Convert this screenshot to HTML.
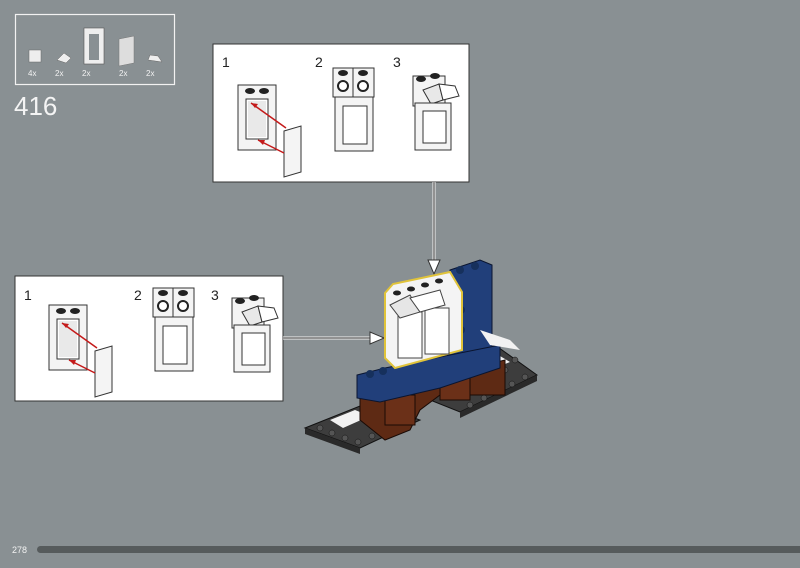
<!DOCTYPE html>
<html><head><meta charset="utf-8"><style>
html,body{margin:0;padding:0;background:#899093;}
svg{display:block}
text{font-family:"Liberation Sans",sans-serif;}
</style></head><body>
<svg width="800" height="568" viewBox="0 0 800 568" xmlns="http://www.w3.org/2000/svg">
<rect width="800" height="568" fill="#899093"/>
<defs>
 <g id="f1">
  <rect x="0" y="0" width="38" height="65" fill="#f4f4f4" stroke="#333" stroke-width="1"/>
  <rect x="8" y="14" width="22" height="40" fill="#fff" stroke="#333" stroke-width="1"/>
  <rect x="10" y="16" width="18" height="36" fill="#e9e9e9"/>
  <ellipse cx="12" cy="6" rx="5" ry="3" fill="#222"/><ellipse cx="26" cy="6" rx="5" ry="3" fill="#222"/>
  <polygon points="46,46 63,41 63,87 46,92" fill="#f4f4f4" stroke="#333"/>
  <line x1="48" y1="43" x2="13" y2="18" stroke="#c41a1a" stroke-width="1.5"/>
  <polygon points="13,18 20,19 17,23" fill="#c41a1a"/>
  <line x1="46" y1="68" x2="20" y2="55" stroke="#c41a1a" stroke-width="1.5"/>
  <polygon points="20,55 27,55 25,60" fill="#c41a1a"/>
 </g>
 <g id="f2">
  <rect x="0" y="0" width="41" height="29" fill="#f4f4f4" stroke="#333"/>
  <line x1="20" y1="0" x2="20" y2="29" stroke="#333"/>
  <ellipse cx="10" cy="5" rx="5" ry="3" fill="#222"/><ellipse cx="30" cy="5" rx="5" ry="3" fill="#222"/>
  <circle cx="10" cy="18" r="5" fill="#fff" stroke="#222" stroke-width="2"/><circle cx="30" cy="18" r="5" fill="#fff" stroke="#222" stroke-width="2"/>
  <rect x="2" y="29" width="38" height="54" fill="#f4f4f4" stroke="#333"/>
  <rect x="10" y="38" width="24" height="38" fill="#fff" stroke="#333"/>
 </g>
 <g id="f3">
  <rect x="0" y="8" width="32" height="30" fill="#f4f4f4" stroke="#333"/>
  <ellipse cx="8" cy="11" rx="5" ry="3" fill="#222"/><ellipse cx="22" cy="8" rx="5" ry="3" fill="#222"/>
  <polygon points="10,22 26,16 30,32 18,36" fill="#e8e8e8" stroke="#333"/>
  <polygon points="26,16 42,18 46,28 30,32" fill="#fff" stroke="#333"/>
  <rect x="2" y="35" width="36" height="47" fill="#f4f4f4" stroke="#333"/>
  <rect x="10" y="43" width="23" height="32" fill="#fff" stroke="#333"/>
 </g>
</defs>

<rect x="15.5" y="14.5" width="159" height="70" fill="none" stroke="#f2f2f2" stroke-width="1.2"/>
<rect x="29" y="50" width="12" height="12" fill="#eee" stroke="#666" stroke-width=".5"/>
<polygon points="57,60 64,53 71,58 66,63" fill="#eee" stroke="#666" stroke-width=".5"/>
<rect x="84" y="28" width="20" height="36" fill="#eee" stroke="#555" stroke-width=".6"/><rect x="89" y="34" width="10" height="26" fill="#899093"/>
<polygon points="119,39 134,36 134,63 119,66" fill="#ddd" stroke="#777" stroke-width=".5"/>
<polygon points="148,60 150,55 158,56 162,62" fill="#eee" stroke="#666" stroke-width=".5"/>
<g font-size="8" fill="#f2f2f2"><text x="28" y="76">4x</text><text x="55" y="76">2x</text><text x="82" y="76">2x</text><text x="119" y="76">2x</text><text x="146" y="76">2x</text></g>
<text x="14" y="115" font-size="26" fill="#f4f4f4">416</text>

<rect x="213" y="44" width="256" height="138" fill="#fff" stroke="#333"/>
<g font-size="14" fill="#222"><text x="222" y="67">1</text><text x="315" y="67">2</text><text x="393" y="67">3</text></g>
<use href="#f1" x="238" y="85"/>
<use href="#f2" x="333" y="68"/>
<use href="#f3" x="413" y="68"/>

<rect x="15" y="276" width="268" height="125" fill="#fff" stroke="#333"/>
<g font-size="14" fill="#222"><text x="24" y="300">1</text><text x="134" y="300">2</text><text x="211" y="300">3</text></g>
<use href="#f1" x="49" y="305"/>
<use href="#f2" x="153" y="288"/>
<use href="#f3" x="232" y="290"/>

<line x1="434" y1="182" x2="434" y2="262" stroke="#f2f2f2" stroke-width="3"/>
<line x1="434" y1="182" x2="434" y2="262" stroke="#333" stroke-width="1"/>
<polygon points="428,260 440,260 434,274" fill="#fff" stroke="#333"/>
<line x1="283" y1="338" x2="372" y2="338" stroke="#f2f2f2" stroke-width="3"/>
<line x1="283" y1="338" x2="372" y2="338" stroke="#333" stroke-width="1"/>
<polygon points="370,332 370,344 384,338" fill="#fff" stroke="#333"/>

<polygon points="305,428 370,402 420,420 360,448" fill="#3d3d3d" stroke="#111"/>
<polygon points="305,428 360,448 360,454 305,434" fill="#2a2a2a"/>
<polygon points="430,400 495,345 537,375 460,412" fill="#3d3d3d" stroke="#111"/>
<polygon points="460,412 537,375 537,381 460,418" fill="#2a2a2a"/>
<polygon points="330,420 355,410 370,416 343,428" fill="#f2f2f2"/>
<polygon points="478,365 500,356 510,362 486,372" fill="#f2f2f2"/>
<g fill="#555" stroke="#111" stroke-width=".5">
<circle cx="320" cy="428" r="3"/><circle cx="332" cy="433" r="3"/><circle cx="345" cy="438" r="3"/><circle cx="358" cy="442" r="3"/><circle cx="372" cy="436" r="3"/><circle cx="386" cy="430" r="3"/><circle cx="400" cy="423" r="3"/>
<circle cx="470" cy="405" r="3"/><circle cx="484" cy="398" r="3"/><circle cx="498" cy="391" r="3"/><circle cx="512" cy="384" r="3"/><circle cx="525" cy="377" r="3"/><circle cx="505" cy="370" r="3"/><circle cx="515" cy="360" r="3"/>
</g>
<polygon points="360,395 505,360 505,395 440,395 420,410 410,430 385,440 360,420" fill="#5e2a14" stroke="#1a0a05"/>
<rect x="385" y="395" width="30" height="30" fill="#6b3018" stroke="#1a0a05"/>
<rect x="440" y="375" width="30" height="25" fill="#6b3018" stroke="#1a0a05"/>
<polygon points="450,270 480,260 492,265 492,350 460,362 450,358" fill="#213f7a" stroke="#0a1530"/>
<polygon points="357,375 385,368 475,350 500,345 500,368 440,388 380,402 357,398" fill="#213f7a" stroke="#0a1530"/>
<polygon points="480,330 510,340 520,350 490,345" fill="#f2f2f2"/>
<g fill="#16305c"><circle cx="460" cy="270" r="4"/><circle cx="475" cy="266" r="4"/><circle cx="370" cy="374" r="4"/><circle cx="383" cy="371" r="4"/><circle cx="461" cy="310" r="4"/><circle cx="461" cy="330" r="4"/></g>
<polygon points="385,293 393,284 450,272 462,292 462,350 395,368 385,358" fill="#f4f4f4" stroke="#e0c33a" stroke-width="2"/>
<rect x="398" y="312" width="24" height="46" fill="#fff" stroke="#444"/>
<rect x="425" y="308" width="24" height="46" fill="#fff" stroke="#444"/>
<polygon points="390,305 410,295 420,312 400,318" fill="#e6e6e6" stroke="#444"/>
<polygon points="410,298 440,290 445,305 420,312" fill="#fff" stroke="#444"/>
<g fill="#222"><ellipse cx="397" cy="293" rx="4" ry="2.5"/><ellipse cx="411" cy="289" rx="4" ry="2.5"/><ellipse cx="425" cy="285" rx="4" ry="2.5"/><ellipse cx="439" cy="281" rx="4" ry="2.5"/></g>

<text x="12" y="553" font-size="9" fill="#f2f2f2">278</text>
<rect x="37" y="546" width="770" height="7" rx="3.5" fill="#565b5c"/>
</svg>
</body></html>
